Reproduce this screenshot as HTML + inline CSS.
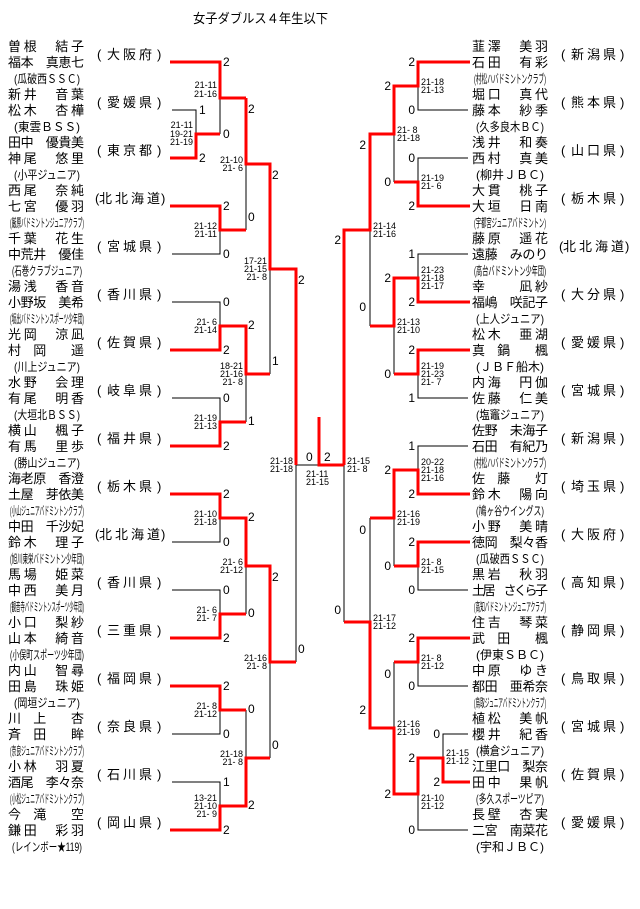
<!DOCTYPE html>
<html><head><meta charset="utf-8"><style>
html,body{margin:0;padding:0;background:#fff;}
svg{display:block;}
text{font-family:"Liberation Sans","Noto Sans CJK JP",sans-serif;fill:#000;}
.n{font-size:13px;}
.c{font-size:12px;}
.p{font-size:13px;}
.s{font-size:12px;}
.l{font-size:9px;white-space:pre;}
.t{font-size:13px;}
</style></head><body>
<svg width="640" height="909" viewBox="0 0 640 909" xmlns="http://www.w3.org/2000/svg" xml:space="preserve">
<text class="t" x="193" y="23" textLength="135" lengthAdjust="spacingAndGlyphs">女子ダブルス４年生以下</text>

<path fill="none" stroke="#000" stroke-width="1" shape-rendering="crispEdges" d="
M172 110H196V134 M220 98V134 M172 254H220V230 M246 164V230 M172 302H220V326 M172 398H220V422 M246 374V422 M270 269V374
M172 542H220V518 M172 590H220V614 M246 566V614 M172 734H220V710 M172 782H220V806 M246 710V758 M270 662V758 M296 465V662 M296 465H319
M468 110H418V86 M468 158H418V182 M394 134V182 M468 254H418V278 M468 398H418V374 M394 326V374 M370 230V326
M468 446H418V470 M468 590H418V566 M394 518V566 M370 518V622 M344 465V622 M468 686H418V662 M394 662V728 M468 734H443V758 M468 830H418V794"/>
<path fill="none" stroke="#f00" stroke-width="3" shape-rendering="crispEdges" d="
M170 62H220V98H246 M170 158H196V134H220 M170 206H220V230H246 M246 98V164H270V269H296V465
M170 350H220V326H246V374H270 M170 446H220V422H246 M170 494H220V518H246V566H270V662H296
M170 638H220V614H246 M170 686H220V710H246 M170 830H220V806H246V758H270
M319 417V465H344 M344 465V230H370V134H394V86H418V62H470
M470 206H418V182H394 M470 302H418V278H394V326H370 M470 350H418V374H394
M470 494H418V470H394V518H370 M470 542H418V566H394
M344 622H370V728H394V794H418V758H443V782H470 M470 638H418V662H394"/>

<!-- LEFT TEAMS -->
<g transform="translate(0,62)"><text class="n" x="8" y="-11" textLength="76">曽根　結子</text><text class="n" x="8" y="5" textLength="76">福本　真恵七</text><text class="c" x="14" y="21" textLength="66" lengthAdjust="spacingAndGlyphs">(瓜破西ＳＳＣ)</text><text class="p" x="97 107 123 139 157" y="-3">(大阪府)</text></g>
<g transform="translate(0,110)"><text class="n" x="8" y="-11" textLength="76">新井　音葉</text><text class="n" x="8" y="5" textLength="76">松木　杏樺</text><text class="c" x="14" y="21" textLength="66" lengthAdjust="spacingAndGlyphs">(東雲ＢＳＳ)</text><text class="p" x="97 107 123 139 157" y="-3">(愛媛県)</text></g>
<g transform="translate(0,158)"><text class="n" x="8" y="-11" textLength="76">田中　優貴美</text><text class="n" x="8" y="5" textLength="76">神尾　悠里</text><text class="c" x="14" y="21" textLength="66" lengthAdjust="spacingAndGlyphs">(小平ジュニア)</text><text class="p" x="97 107 123 139 157" y="-3">(東京都)</text></g>
<g transform="translate(0,206)"><text class="n" x="8" y="-11" textLength="76">西尾　奈純</text><text class="n" x="8" y="5" textLength="76">七宮　優羽</text><text class="c" x="10" y="21" textLength="74" lengthAdjust="spacingAndGlyphs">(厳原バドミントンジュニアクラブ)</text><text class="p" x="95 99 115 131 147 161" y="-3">(北北海道)</text></g>
<g transform="translate(0,254)"><text class="n" x="8" y="-11" textLength="76">千葉　花生</text><text class="n" x="8" y="5" textLength="76">中荒井　優佳</text><text class="c" x="12" y="21" textLength="70" lengthAdjust="spacingAndGlyphs">(石巻クラブジュニア)</text><text class="p" x="97 107 123 139 157" y="-3">(宮城県)</text></g>
<g transform="translate(0,302)"><text class="n" x="8" y="-11" textLength="76">湯浅　香音</text><text class="n" x="8" y="5" textLength="76">小野坂　美希</text><text class="c" x="10" y="21" textLength="74" lengthAdjust="spacingAndGlyphs">(坂出バドミントンスポーツ少年団)</text><text class="p" x="97 107 123 139 157" y="-3">(香川県)</text></g>
<g transform="translate(0,350)"><text class="n" x="8" y="-11" textLength="76">光岡　涼凪</text><text class="n" x="8" y="5" textLength="76">村　岡　　遥</text><text class="c" x="14" y="21" textLength="66" lengthAdjust="spacingAndGlyphs">(川上ジュニア)</text><text class="p" x="97 107 123 139 157" y="-3">(佐賀県)</text></g>
<g transform="translate(0,398)"><text class="n" x="8" y="-11" textLength="76">水野　会理</text><text class="n" x="8" y="5" textLength="76">有尾　明香</text><text class="c" x="14" y="21" textLength="66" lengthAdjust="spacingAndGlyphs">(大垣北ＢＳＳ)</text><text class="p" x="97 107 123 139 157" y="-3">(岐阜県)</text></g>
<g transform="translate(0,446)"><text class="n" x="8" y="-11" textLength="76">横山　楓子</text><text class="n" x="8" y="5" textLength="76">有馬　里歩</text><text class="c" x="14" y="21" textLength="66" lengthAdjust="spacingAndGlyphs">(勝山ジュニア)</text><text class="p" x="97 107 123 139 157" y="-3">(福井県)</text></g>
<g transform="translate(0,494)"><text class="n" x="8" y="-11" textLength="76">海老原　香澄</text><text class="n" x="8" y="5" textLength="76">土屋　芽依美</text><text class="c" x="10" y="21" textLength="74" lengthAdjust="spacingAndGlyphs">(小山ジュニアバドミントンクラブ)</text><text class="p" x="97 107 123 139 157" y="-3">(栃木県)</text></g>
<g transform="translate(0,542)"><text class="n" x="8" y="-11" textLength="76">中田　千沙妃</text><text class="n" x="8" y="5" textLength="76">鈴木　理子</text><text class="c" x="10" y="21" textLength="74" lengthAdjust="spacingAndGlyphs">(旭川東栄バドミントン少年団)</text><text class="p" x="95 99 115 131 147 161" y="-3">(北北海道)</text></g>
<g transform="translate(0,590)"><text class="n" x="8" y="-11" textLength="76">馬場　姫菜</text><text class="n" x="8" y="5" textLength="76">中西　美月</text><text class="c" x="10" y="21" textLength="74" lengthAdjust="spacingAndGlyphs">(観音寺バドミントンスポーツ少年団)</text><text class="p" x="97 107 123 139 157" y="-3">(香川県)</text></g>
<g transform="translate(0,638)"><text class="n" x="8" y="-11" textLength="76">小口　梨紗</text><text class="n" x="8" y="5" textLength="76">山本　綺音</text><text class="c" x="10" y="21" textLength="74" lengthAdjust="spacingAndGlyphs">(小俣町スポーツ少年団)</text><text class="p" x="97 107 123 139 157" y="-3">(三重県)</text></g>
<g transform="translate(0,686)"><text class="n" x="8" y="-11" textLength="76">内山　智尋</text><text class="n" x="8" y="5" textLength="76">田島　珠姫</text><text class="c" x="14" y="21" textLength="66" lengthAdjust="spacingAndGlyphs">(岡垣ジュニア)</text><text class="p" x="97 107 123 139 157" y="-3">(福岡県)</text></g>
<g transform="translate(0,734)"><text class="n" x="8" y="-11" textLength="76">川　上　　杏</text><text class="n" x="8" y="5" textLength="76">斉　田　　眸</text><text class="c" x="10" y="21" textLength="74" lengthAdjust="spacingAndGlyphs">(奈良ジュニアバドミントンクラブ)</text><text class="p" x="97 107 123 139 157" y="-3">(奈良県)</text></g>
<g transform="translate(0,782)"><text class="n" x="8" y="-11" textLength="76">小林　羽夏</text><text class="n" x="8" y="5" textLength="76">酒尾　李々奈</text><text class="c" x="10" y="21" textLength="74" lengthAdjust="spacingAndGlyphs">(小松ジュニアバドミントンクラブ)</text><text class="p" x="97 107 123 139 157" y="-3">(石川県)</text></g>
<g transform="translate(0,830)"><text class="n" x="8" y="-11" textLength="76">今　滝　　空</text><text class="n" x="8" y="5" textLength="76">鎌田　彩羽</text><text class="c" x="12" y="21" textLength="70" lengthAdjust="spacingAndGlyphs">(レインボー★119)</text><text class="p" x="97 107 123 139 157" y="-3">(岡山県)</text></g>

<!-- RIGHT TEAMS -->
<g transform="translate(0,62)"><text class="n" x="472" y="-11" textLength="76">韮澤　美羽</text><text class="n" x="472" y="5" textLength="76">石田　有彩</text><text class="c" x="474" y="21" textLength="72" lengthAdjust="spacingAndGlyphs">(村松ハバドミントンクラブ)</text><text class="p" x="561 571 587 603 620" y="-3">(新潟県)</text></g>
<g transform="translate(0,110)"><text class="n" x="472" y="-11" textLength="76">堀口　真代</text><text class="n" x="472" y="5" textLength="76">藤本　紗季</text><text class="c" x="476" y="21" textLength="68" lengthAdjust="spacingAndGlyphs">(久多良木ＢＣ)</text><text class="p" x="561 571 587 603 620" y="-3">(熊本県)</text></g>
<g transform="translate(0,158)"><text class="n" x="472" y="-11" textLength="76">浅井　和奏</text><text class="n" x="472" y="5" textLength="76">西村　真美</text><text class="c" x="476" y="21" textLength="68" lengthAdjust="spacingAndGlyphs">(柳井ＪＢＣ)</text><text class="p" x="561 571 587 603 620" y="-3">(山口県)</text></g>
<g transform="translate(0,206)"><text class="n" x="472" y="-11" textLength="76">大貫　桃子</text><text class="n" x="472" y="5" textLength="76">大垣　日南</text><text class="c" x="474" y="21" textLength="72" lengthAdjust="spacingAndGlyphs">(宇都宮ジュニアバドミントン)</text><text class="p" x="561 571 587 603 620" y="-3">(栃木県)</text></g>
<g transform="translate(0,254)"><text class="n" x="472" y="-11" textLength="76">藤原　遥花</text><text class="n" x="472" y="5" textLength="76">遠藤　みのり</text><text class="c" x="474" y="21" textLength="72" lengthAdjust="spacingAndGlyphs">(高台バドミントン少年団)</text><text class="p" x="559 563 579 595 611 625" y="-3">(北北海道)</text></g>
<g transform="translate(0,302)"><text class="n" x="472" y="-11" textLength="76">幸　　凪紗</text><text class="n" x="472" y="5" textLength="76">福嶋　咲記子</text><text class="c" x="476" y="21" textLength="68" lengthAdjust="spacingAndGlyphs">(上人ジュニア)</text><text class="p" x="561 571 587 603 620" y="-3">(大分県)</text></g>
<g transform="translate(0,350)"><text class="n" x="472" y="-11" textLength="76">松木　亜湖</text><text class="n" x="472" y="5" textLength="76">真　鍋　　楓</text><text class="c" x="476" y="21" textLength="68" lengthAdjust="spacingAndGlyphs">(ＪＢＦ船木)</text><text class="p" x="561 571 587 603 620" y="-3">(愛媛県)</text></g>
<g transform="translate(0,398)"><text class="n" x="472" y="-11" textLength="76">内海　円伽</text><text class="n" x="472" y="5" textLength="76">佐藤　仁美</text><text class="c" x="476" y="21" textLength="68" lengthAdjust="spacingAndGlyphs">(塩竈ジュニア)</text><text class="p" x="561 571 587 603 620" y="-3">(宮城県)</text></g>
<g transform="translate(0,446)"><text class="n" x="472" y="-11" textLength="76">佐野　未海子</text><text class="n" x="472" y="5" textLength="76">石田　有紀乃</text><text class="c" x="474" y="21" textLength="72" lengthAdjust="spacingAndGlyphs">(村松ハバドミントンクラブ)</text><text class="p" x="561 571 587 603 620" y="-3">(新潟県)</text></g>
<g transform="translate(0,494)"><text class="n" x="472" y="-11" textLength="76">佐　藤　　灯</text><text class="n" x="472" y="5" textLength="76">鈴木　陽向</text><text class="c" x="476" y="21" textLength="68" lengthAdjust="spacingAndGlyphs">(鳩ヶ谷ウイングス)</text><text class="p" x="561 571 587 603 620" y="-3">(埼玉県)</text></g>
<g transform="translate(0,542)"><text class="n" x="472" y="-11" textLength="76">小野　美晴</text><text class="n" x="472" y="5" textLength="76">徳岡　梨々香</text><text class="c" x="476" y="21" textLength="68" lengthAdjust="spacingAndGlyphs">(瓜破西ＳＳＣ)</text><text class="p" x="561 571 587 603 620" y="-3">(大阪府)</text></g>
<g transform="translate(0,590)"><text class="n" x="472" y="-11" textLength="76">黒岩　秋羽</text><text class="n" x="472" y="5" textLength="76">土居　さくら子</text><text class="c" x="474" y="21" textLength="72" lengthAdjust="spacingAndGlyphs">(高知バドミントンジュニアクラブ)</text><text class="p" x="561 571 587 603 620" y="-3">(高知県)</text></g>
<g transform="translate(0,638)"><text class="n" x="472" y="-11" textLength="76">住吉　琴菜</text><text class="n" x="472" y="5" textLength="76">武　田　　楓</text><text class="c" x="476" y="21" textLength="68" lengthAdjust="spacingAndGlyphs">(伊東ＳＢＣ)</text><text class="p" x="561 571 587 603 620" y="-3">(静岡県)</text></g>
<g transform="translate(0,686)"><text class="n" x="472" y="-11" textLength="76">中原　ゆき</text><text class="n" x="472" y="5" textLength="76">都田　亜希奈</text><text class="c" x="474" y="21" textLength="72" lengthAdjust="spacingAndGlyphs">(鳥取ジュニアバドミントンクラブ)</text><text class="p" x="561 571 587 603 620" y="-3">(鳥取県)</text></g>
<g transform="translate(0,734)"><text class="n" x="472" y="-11" textLength="76">植松　美帆</text><text class="n" x="472" y="5" textLength="76">櫻井　紀香</text><text class="c" x="476" y="21" textLength="68" lengthAdjust="spacingAndGlyphs">(横倉ジュニア)</text><text class="p" x="561 571 587 603 620" y="-3">(宮城県)</text></g>
<g transform="translate(0,782)"><text class="n" x="472" y="-11" textLength="76">江里口　梨奈</text><text class="n" x="472" y="5" textLength="76">田中　果帆</text><text class="c" x="476" y="21" textLength="68" lengthAdjust="spacingAndGlyphs">(多久スポーツピア)</text><text class="p" x="561 571 587 603 620" y="-3">(佐賀県)</text></g>
<g transform="translate(0,830)"><text class="n" x="472" y="-11" textLength="76">長壁　杏実</text><text class="n" x="472" y="5" textLength="76">二宮　南菜花</text><text class="c" x="476" y="21" textLength="68" lengthAdjust="spacingAndGlyphs">(宇和ＪＢＣ)</text><text class="p" x="561 571 587 603 620" y="-3">(愛媛県)</text></g>

<g>
<text class="s" x="199" y="114">1</text><text class="s" x="199" y="162">2</text>
<text class="s" x="223" y="66">2</text><text class="s" x="223" y="138">0</text><text class="s" x="223" y="210">2</text><text class="s" x="223" y="258">0</text>
<text class="s" x="223" y="306">0</text><text class="s" x="223" y="354">2</text><text class="s" x="223" y="402">0</text><text class="s" x="223" y="450">2</text>
<text class="s" x="223" y="498">2</text><text class="s" x="223" y="546">0</text><text class="s" x="223" y="594">0</text><text class="s" x="223" y="642">2</text>
<text class="s" x="223" y="690">2</text><text class="s" x="223" y="738">0</text><text class="s" x="223" y="786">1</text><text class="s" x="223" y="834">2</text>
<text class="s" x="248" y="113">2</text><text class="s" x="248" y="221">0</text><text class="s" x="248" y="329">2</text><text class="s" x="248" y="425">1</text>
<text class="s" x="248" y="521">2</text><text class="s" x="248" y="617">0</text><text class="s" x="248" y="713">0</text><text class="s" x="248" y="809">2</text>
<text class="s" x="272" y="179">2</text><text class="s" x="272" y="365">1</text><text class="s" x="272" y="581">2</text><text class="s" x="272" y="749">0</text>
<text class="s" x="298" y="284">2</text><text class="s" x="298" y="653">0</text>
<text class="s" x="306" y="461">0</text><text class="s" x="324" y="461">2</text>
</g>
<g text-anchor="end">
<text class="s" x="415" y="66">2</text><text class="s" x="415" y="114">0</text><text class="s" x="415" y="162">0</text><text class="s" x="415" y="210">2</text>
<text class="s" x="415" y="258">1</text><text class="s" x="415" y="306">2</text><text class="s" x="415" y="354">2</text><text class="s" x="415" y="402">1</text>
<text class="s" x="415" y="450">1</text><text class="s" x="415" y="498">2</text><text class="s" x="415" y="546">2</text><text class="s" x="415" y="594">0</text>
<text class="s" x="415" y="642">2</text><text class="s" x="415" y="690">0</text><text class="s" x="415" y="762">2</text><text class="s" x="415" y="834">0</text>
<text class="s" x="440" y="738">0</text><text class="s" x="440" y="786">2</text>
<text class="s" x="391" y="90">2</text><text class="s" x="391" y="186">0</text><text class="s" x="391" y="282">2</text><text class="s" x="391" y="378">0</text>
<text class="s" x="391" y="474">2</text><text class="s" x="391" y="570">0</text><text class="s" x="391" y="678">0</text><text class="s" x="391" y="798">2</text>
<text class="s" x="366" y="149">2</text><text class="s" x="366" y="311">0</text><text class="s" x="366" y="534">0</text><text class="s" x="366" y="714">2</text>
<text class="s" x="341" y="244">2</text><text class="s" x="341" y="614">0</text>
</g>

<g text-anchor="end">
<text class="l" x="193" y="128">21-11</text><text class="l" x="193" y="137">19-21</text><text class="l" x="193" y="145">21-19</text>
<text class="l" x="217" y="88">21-11</text><text class="l" x="217" y="97">21-16</text>
<text class="l" x="243" y="163">21-10</text><text class="l" x="243" y="171">21- 6</text>
<text class="l" x="217" y="229">21-12</text><text class="l" x="217" y="237">21-11</text>
<text class="l" x="267" y="264">17-21</text><text class="l" x="267" y="272">21-15</text><text class="l" x="267" y="280">21- 8</text>
<text class="l" x="217" y="325">21- 6</text><text class="l" x="217" y="333">21-14</text>
<text class="l" x="243" y="369">18-21</text><text class="l" x="243" y="377">21-16</text><text class="l" x="243" y="385">21- 8</text>
<text class="l" x="217" y="421">21-19</text><text class="l" x="217" y="429">21-13</text>
<text class="l" x="293" y="464">21-18</text><text class="l" x="293" y="472">21-18</text>
<text class="l" x="217" y="517">21-10</text><text class="l" x="217" y="525">21-18</text>
<text class="l" x="243" y="565">21- 6</text><text class="l" x="243" y="573">21-12</text>
<text class="l" x="217" y="613">21- 6</text><text class="l" x="217" y="621">21- 7</text>
<text class="l" x="267" y="661">21-16</text><text class="l" x="267" y="669">21- 8</text>
<text class="l" x="217" y="709">21- 8</text><text class="l" x="217" y="717">21-12</text>
<text class="l" x="243" y="757">21-18</text><text class="l" x="243" y="765">21- 8</text>
<text class="l" x="217" y="801">13-21</text><text class="l" x="217" y="809">21-10</text><text class="l" x="217" y="817">21- 9</text>
</g>
<text class="l" x="306" y="477">21-11</text><text class="l" x="306" y="485">21-15</text>
<g>
<text class="l" x="421" y="85">21-18</text><text class="l" x="421" y="93">21-13</text>
<text class="l" x="397" y="133">21- 8</text><text class="l" x="397" y="141">21-18</text>
<text class="l" x="421" y="181">21-19</text><text class="l" x="421" y="189">21- 6</text>
<text class="l" x="373" y="229">21-14</text><text class="l" x="373" y="237">21-16</text>
<text class="l" x="421" y="273">21-23</text><text class="l" x="421" y="281">21-18</text><text class="l" x="421" y="289">21-17</text>
<text class="l" x="397" y="325">21-13</text><text class="l" x="397" y="333">21-10</text>
<text class="l" x="421" y="369">21-19</text><text class="l" x="421" y="377">21-23</text><text class="l" x="421" y="385">21- 7</text>
<text class="l" x="347" y="464">21-15</text><text class="l" x="347" y="472">21- 8</text>
<text class="l" x="421" y="465">20-22</text><text class="l" x="421" y="473">21-18</text><text class="l" x="421" y="481">21-16</text>
<text class="l" x="397" y="517">21-16</text><text class="l" x="397" y="525">21-19</text>
<text class="l" x="421" y="565">21- 8</text><text class="l" x="421" y="573">21-15</text>
<text class="l" x="373" y="621">21-17</text><text class="l" x="373" y="629">21-12</text>
<text class="l" x="421" y="661">21- 8</text><text class="l" x="421" y="669">21-12</text>
<text class="l" x="397" y="727">21-16</text><text class="l" x="397" y="735">21-19</text>
<text class="l" x="446" y="756">21-15</text><text class="l" x="446" y="764">21-12</text>
<text class="l" x="421" y="801">21-10</text><text class="l" x="421" y="809">21-12</text>
</g>
</svg>
</body></html>
